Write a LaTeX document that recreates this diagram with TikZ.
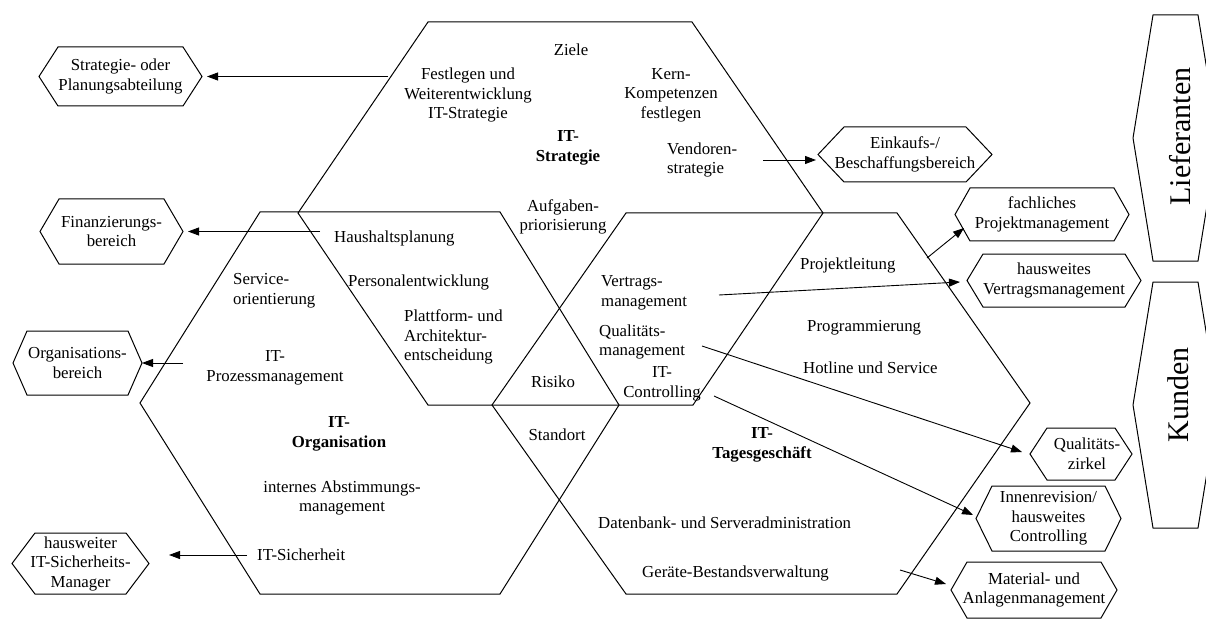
\documentclass[tikz,border=0pt]{standalone}
\usepackage{fontspec}
\setmainfont{Liberation Serif}
\usetikzlibrary{arrows.meta}

% elongated hexagon box: name, centre, width, height, inset of the top edge, text
\newcommand\hexbox[6]{%
  \node[lbl, minimum width=#3pt, minimum height=#4pt, outer sep=0pt] (#1) at (#2) {#6};
  \draw[edge] ([xshift=#5pt]#1.north west) -- ([xshift=-#5pt]#1.north east) -- (#1.east)
    -- ([xshift=-#5pt]#1.south east) -- ([xshift=#5pt]#1.south west) -- (#1.west) -- cycle;
}

\begin{document}
\begin{tikzpicture}[x=1pt,y=-1pt,
  edge/.style={line width=1pt, line join=miter},
  lbl/.style={font=\fontsize{16.8}{19.5}\selectfont, inner sep=0pt, align=center},
  lblw/.style={lbl, anchor=west, align=left},
  head/.style={lbl, font=\fontsize{16.8}{19.5}\selectfont\bfseries},
  big/.style={font=\fontsize{30}{30}\selectfont, rotate=90, inner sep=0pt},
  conn/.style={line width=0.9pt, -{Triangle[length=11pt,width=8pt]}}
]
\useasboundingbox (0,0) rectangle (1206,620);
\clip (0,0) rectangle (1206,620);

% the three overlapping areas
\draw[edge] (428,22) -- (692,22) -- (823,213) -- (693,405) -- (428,405) -- (298,213) -- cycle;
\draw[edge] (260,212) -- (500,212) -- (619,405) -- (500,594) -- (260,594) -- (140,403) -- cycle;
\draw[edge] (626,213) -- (897,213) -- (1030,403) -- (897,594) -- (626,594) -- (492,405) -- cycle;

% IT-Strategie
\node[lbl] (ziele) at (571,50) {Ziele};
\node[lbl] (fest) at (468,95) {Festlegen und\\Weiterentwicklung\\IT-Strategie};
\node[lbl] (kern) at (671,95) {Kern-\\Kompetenzen\\festlegen};
\node[head] (itstr) at (568,148) {IT-\\Strategie};
\node[lblw] (vend) at (667,160) {Vendoren-\\strategie};
\node[lbl] (aufg) at (563,217) {Aufgaben-\\priorisierung};

% IT-Organisation
\node[lblw] (haus) at (334,238) {Haushaltsplanung};
\node[lblw] (pers) at (348,282) {Personalentwicklung};
\node[lblw] (platt) at (404,337) {Plattform- und\\Architektur-\\entscheidung};
\node[lblw] (serv) at (233,291) {Service-\\orientierung};
\node[lbl] (itproz) at (275,368) {IT-\\Prozessmanagement};
\node[head] (itorg) at (339,434) {IT-\\Organisation};
\node[lbl] (intern) at (342,498) {internes Abstimmungs-\\management};
\node[lblw] (itsich) at (257,555) {IT-Sicherheit};
\node[lbl] (risiko) at (553,382) {Risiko};
\node[lbl] (standort) at (557,435) {Standort};

% IT-Tagesgeschaeft
\node[lblw] (vert) at (601,293) {Vertrags-\\management};
\node[lblw] (qual) at (599,342) {Qualitäts-\\management};
\node[lbl] (itcon) at (662,384) {IT-\\Controlling};
\node[lblw] (proj) at (800,265) {Projektleitung};
\node[lblw] (prog) at (807,328) {Programmierung};
\node[lblw] (hot) at (803,368) {Hotline und Service};
\node[head] (ittag) at (762,445) {IT-\\Tagesgeschäft};
\node[lblw] (daten) at (598,523) {Datenbank- und Serveradministration};
\node[lblw] (geraete) at (642,573) {Geräte-Bestandsverwaltung};

% partner units
\hexbox{strat}{120.5,76.5}{163}{59}{19}{Strategie- oder\\Planungsabteilung}
\hexbox{fin}{111.5,231.5}{143}{65}{19}{Finanzierungs-\\bereich}
\hexbox{org}{77.5,363}{129}{64}{14}{Organisations-\\bereich}
\hexbox{sich}{80.5,563.5}{137}{61}{23}{hausweiter\\IT-Sicherheits-\\Manager}
\hexbox{eink}{905,154.5}{174}{55}{26}{Einkaufs-/\\Beschaffungsbereich}
\hexbox{fach}{1042,214.5}{174}{53}{15}{fachliches\\Projektmanagement}
\hexbox{hvert}{1054,280.5}{174}{53}{16}{hausweites\\Vertragsmanagement}
\hexbox{qzirk}{1081,454}{102}{52}{17}{\hspace*{12pt}Qualitäts-\\\hspace*{12pt}zirkel}
\hexbox{innen}{1048.5,518.5}{145}{65}{16}{Innenrevision/\\hausweites\\Controlling}
\hexbox{mat}{1034,590}{166}{56}{16}{Material- und\\Anlagenmanagement}
\hexbox{lief}{1175.5,138}{85}{246}{20}{}
\hexbox{kund}{1175.5,405}{85}{246}{20}{}
\node[big] (lieft) at (1180,136.5) {Lieferanten};
\node[big] (kundt) at (1178,395) {Kunden};

% connector ends
\coordinate (s1) at (388,76.5);
\coordinate (s2) at (320,231.5);
\coordinate (s3) at (183,363);
\coordinate (s4) at (247,555);
\coordinate (e4) at (169,555);
\coordinate (s5) at (763,160);
\coordinate (e5) at (816,160);
\coordinate (s6) at (927,258);
\coordinate (e6) at (964,228);
\coordinate (s7) at (719,295);
\coordinate (e7) at (960,282);
\coordinate (s8) at (702,346);
\coordinate (e8) at (1022,452);
\coordinate (s9) at (714,396);
\coordinate (e9) at (973,515);
\coordinate (s10) at (900,570);
\coordinate (e10) at (946,584);

\draw[conn] (s1) -- ([xshift=5pt]strat.east);
\draw[conn] (s2) -- ([xshift=5pt]fin.east);
\draw[conn] (s3) -- (org.east);
\draw[conn] (s4) -- (e4);
\draw[conn] (s5) -- (e5);
\draw[conn] (s6) -- (e6);
\draw[conn] (s7) -- (e7);
\draw[conn] (s8) -- (e8);
\draw[conn] (s9) -- (e9);
\draw[conn] (s10) -- (e10);
\end{tikzpicture}
\end{document}
